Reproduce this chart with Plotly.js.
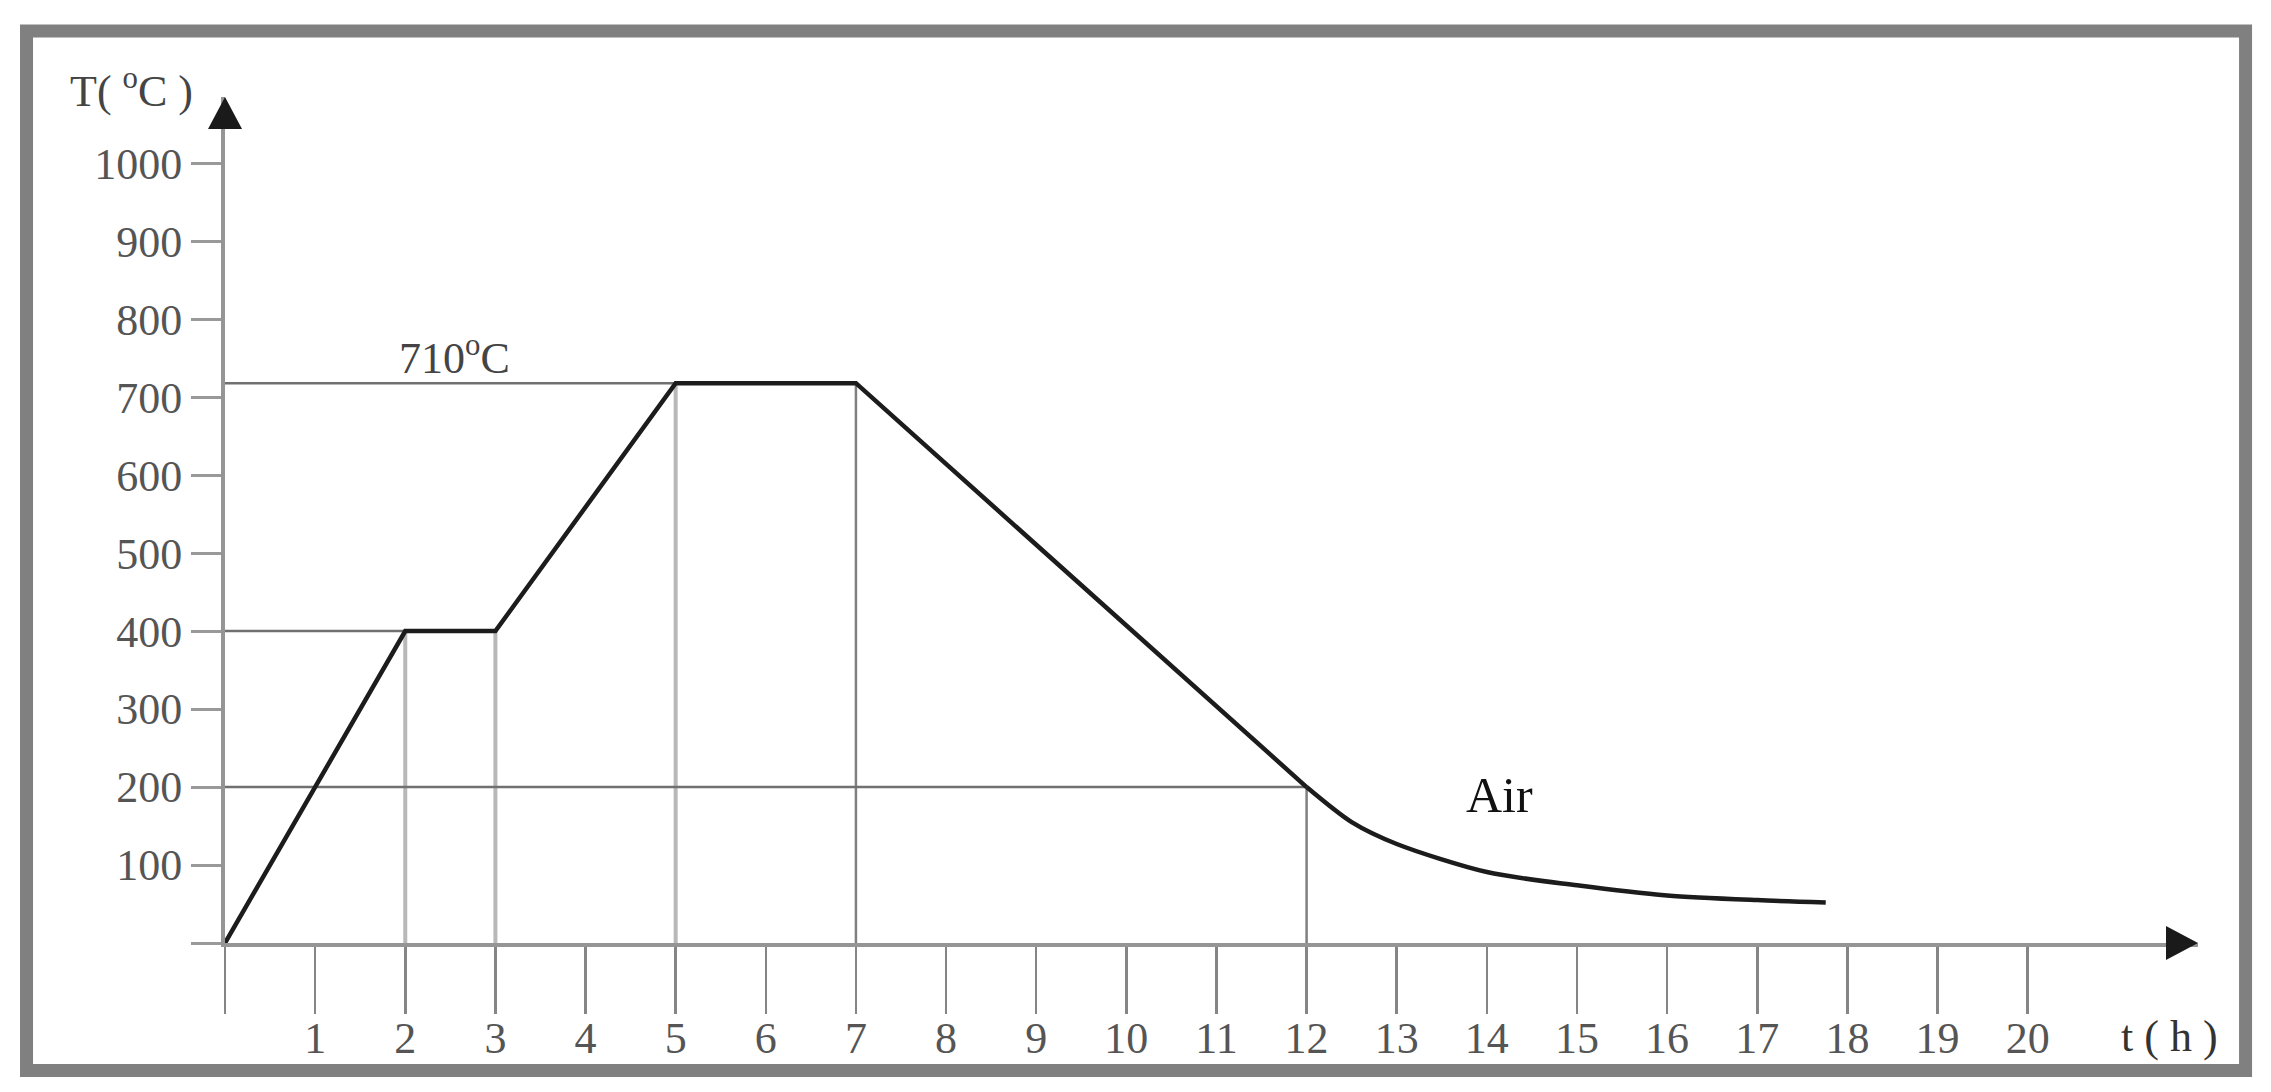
<!DOCTYPE html>
<html>
<head>
<meta charset="utf-8">
<script src="https://cdn.plot.ly/plotly-3.0.1.min.js"></script>
<style>
  html, body { margin: 0; padding: 0; background: #fff; }
  #plot { width: 2271px; height: 1092px; }
</style>
</head>
<body>
<div id="plot"></div>
<script>
// Heat treatment cycle
const timeH   = [0, 2, 3, 5, 7, 12];
const tempC   = [0, 400, 400, 718, 718, 200];

// air cooling tail after 12 h
const airTime = [12, 12.5, 13, 14, 15, 16, 17, 17.76];
const airTemp = [200, 155, 127, 91, 74, 61, 55, 52];

// guide lines (times of the knee points)
const guideLight = [2, 3, 5];
const guideDark  = [7, 12];
const guideHoriz = [2, 5, 12];   // horizontal from the T axis to these knees

const xTicks = [0,1,2,3,4,5,6,7,8,9,10,11,12,13,14,15,16,17,18,19,20];
const xTickText = xTicks.map(v => v === 0 ? '' : String(v));
const yTicks = [0,100,200,300,400,500,600,700,800,900,1000];
const yTickText = yTicks.map(v => v === 0 ? '' : String(v));

const xmax = 21.89;
const ymax = 1085;

function tempAt(t) {
  return tempC[timeH.indexOf(t)];
}

function vGuides(times) {
  let xs = [], ys = [];
  times.forEach(t => { xs.push(t, t, null); ys.push(0, tempAt(t), null); });
  return {x: xs, y: ys};
}

function hGuides(times) {
  let xs = [], ys = [];
  times.forEach(t => { xs.push(0, t, null); ys.push(tempAt(t), tempAt(t), null); });
  return {x: xs, y: ys};
}

const vl = vGuides(guideLight);
const vd = vGuides(guideDark);
const hg = hGuides(guideHoriz);

const traces = [
  {x: vl.x, y: vl.y, mode: 'lines', line: {color: '#b8b8b8', width: 4}, hoverinfo: 'skip'},
  {x: vd.x, y: vd.y, mode: 'lines', line: {color: '#808080', width: 2.5}, hoverinfo: 'skip'},
  {x: hg.x, y: hg.y, mode: 'lines', line: {color: '#707070', width: 2.5}, hoverinfo: 'skip'},
  {x: timeH, y: tempC, mode: 'lines', line: {color: '#1c1c1c', width: 4.5}},
  {x: airTime, y: airTemp, mode: 'lines', line: {color: '#1c1c1c', width: 4.5, shape: 'spline', smoothing: 0.8}}
];

const serif = 'Liberation Serif, Times New Roman, serif';

// arrow heads sized in pixels, in paper units of the plot area
const plotW = 1973, plotH = 846;
const arrowLen = 32, arrowHalf = 17;

const shapes = [
  {type: 'path', xref: 'paper', yref: 'paper', fillcolor: '#1a1a1a', line: {width: 0},
   path: 'M ' + (-arrowHalf / plotW) + ',' + (1 - arrowLen / plotH) +
         ' L ' + (arrowHalf / plotW) + ',' + (1 - arrowLen / plotH) +
         ' L 0,1 Z'},
  {type: 'path', xref: 'paper', yref: 'paper', fillcolor: '#1a1a1a', line: {width: 0},
   path: 'M ' + (1 - arrowLen / plotW) + ',' + (-arrowHalf / plotH) +
         ' L ' + (1 - arrowLen / plotW) + ',' + (arrowHalf / plotH) +
         ' L 1,0 Z'},
  // outer grey frame
  {type: 'rect', xref: 'paper', yref: 'paper', x0: -0.1006, x1: 1.0241, y0: -0.1507, y1: 1.078,
   line: {color: '#808080', width: 13}, fillcolor: 'rgba(0,0,0,0)'}
];

const annotations = [
  {xref: 'paper', yref: 'paper', x: -0.0476, y: 1.0106, xanchor: 'center', yanchor: 'middle',
   text: 'T( <sup>o</sup>C )', showarrow: false,
   font: {family: serif, size: 44, color: '#444'}},
  {xref: 'paper', yref: 'paper', x: 0.9858, y: -0.111, xanchor: 'center', yanchor: 'middle',
   text: 't ( h )', showarrow: false,
   font: {family: serif, size: 44, color: '#333'}},
  {xref: 'x', yref: 'y', x: 2.55, y: 754, text: '710<sup>o</sup>C', showarrow: false,
   font: {family: serif, size: 44, color: '#444'}},
  {xref: 'x', yref: 'y', x: 14.14, y: 190, text: 'Air', showarrow: false,
   font: {family: serif, size: 50, color: '#111'}}
];

Plotly.newPlot('plot', traces, {
  width: 2271, height: 1092,
  margin: {l: 225, r: 73, t: 97, b: 149},
  paper_bgcolor: '#ffffff', plot_bgcolor: '#ffffff',
  showlegend: false,
  xaxis: {range: [0, xmax], showgrid: false, zeroline: false, showline: true,
          linecolor: '#959595', linewidth: 4,
          ticks: 'outside', ticklen: 67, tickwidth: 2.5, tickcolor: '#858585',
          tickvals: xTicks, ticktext: xTickText, ticklabelstandoff: -14,
          tickfont: {family: serif, size: 44, color: '#555'}},
  yaxis: {range: [0, ymax], showgrid: false, zeroline: false, showline: true,
          linecolor: '#959595', linewidth: 4,
          ticks: 'outside', ticklen: 30, tickwidth: 3, tickcolor: '#999',
          tickvals: yTicks, ticktext: yTickText,
          tickfont: {family: serif, size: 44, color: '#555'}},
  shapes: shapes,
  annotations: annotations
}, {displayModeBar: false, staticPlot: true});
</script>
</body>
</html>
